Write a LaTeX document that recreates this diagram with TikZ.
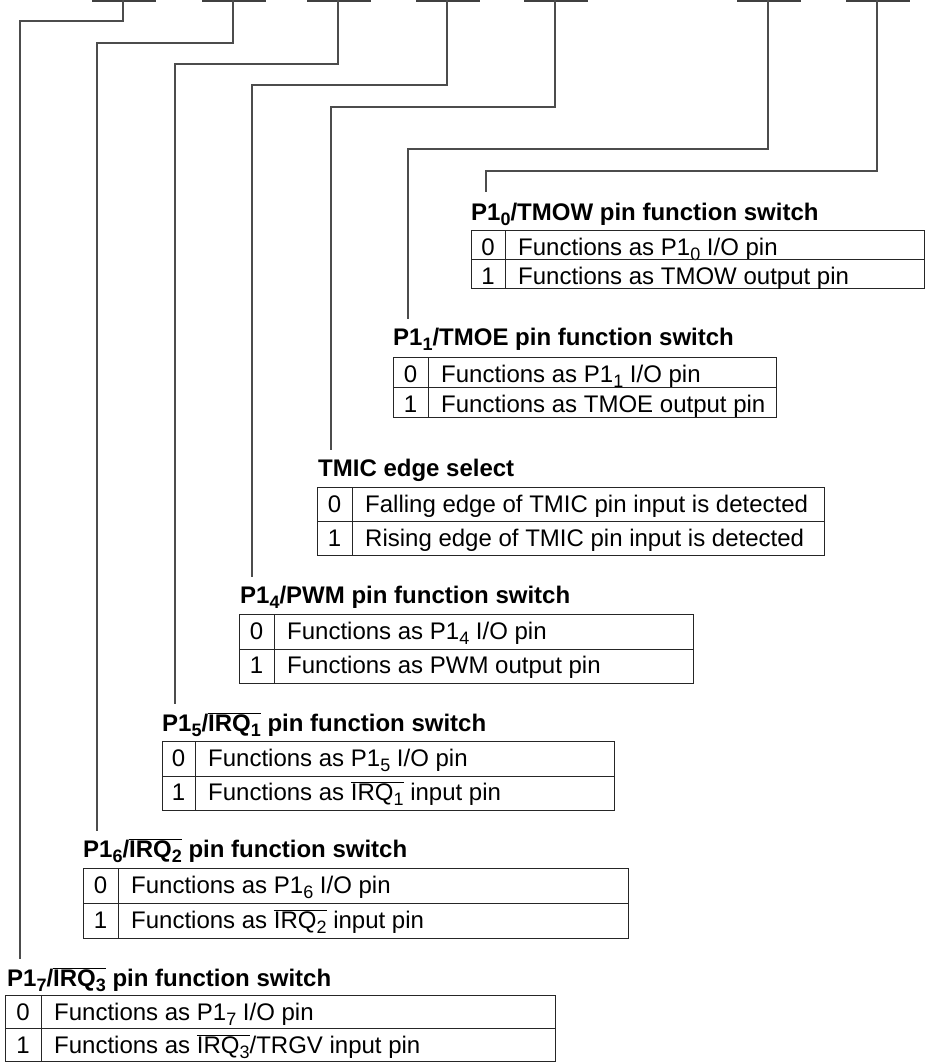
\documentclass[tikz,border=0pt]{standalone}
\usepackage{fontspec}
\setmainfont{Liberation Sans}
\newcommand\lo[1]{\raisebox{-5pt}{\fontsize{18}{18}\selectfont #1}}
\newcommand\irq[1]{$\overline{\hbox{IRQ\lo{#1}}}$}
% name, left, divider, right, top, height, number, text
\newcommand\trow[8]{%
  \node[cellbox, minimum width={(#3-#2)*1pt}, minimum height={#6*1pt}] (#1n) at (#2,#5) {};
  \node[cellbox, minimum width={(#4-#3)*1pt}, minimum height={#6*1pt}] (#1t) at (#3,#5) {};
  \node[celltext, anchor=base] (#1a) at ({(#2+#3)/2},{#5+25}) {#7};
  \node[celltext, anchor=base west] (#1b) at ({#3+13},{#5+25}) {#8};
}
\begin{document}
\begin{tikzpicture}[x=1pt,y=-1pt,
  conn/.style={draw=black!70, line width=1.3pt},
  bar/.style={draw=black!75, line width=1.6pt},
  ttl/.style={anchor=base west, inner sep=0pt, font=\fontsize{24}{28}\selectfont\bfseries},
  cellbox/.style={draw=black!85, line width=1.1pt, anchor=north west, inner sep=0pt},
  celltext/.style={inner sep=0pt, font=\fontsize{24}{28}\selectfont}]
\useasboundingbox (0,0) rectangle (926,1063);

% register bit positions (bottom edges of bit boxes)
\foreach \n/\x in {b7/123, b6/233, b5/338, b4/447, b3/555, b1/768, b0/877}{
  \coordinate (\n) at (\x,0);
  \draw[bar] (\x-31,0.8) -- (\x+33,0.8);
}

% connector ends
\coordinate (e7) at (20,959);
\coordinate (e6) at (97,831);
\coordinate (e5) at (175,704);
\coordinate (e4) at (252,577);
\coordinate (e3) at (331,450);
\coordinate (e1) at (408,319);
\coordinate (e0) at (486,192);

% jogs
\coordinate (j7) at (20,21);
\coordinate (j6) at (97,43);
\coordinate (j5) at (175,64);
\coordinate (j4) at (252,85);
\coordinate (j3) at (331,107);
\coordinate (j1) at (408,149);
\coordinate (j0) at (486,171);

\foreach \k in {7,6,5,4,3,1,0}{
  \draw[conn] (b\k) |- (j\k) -- (e\k);
}

% P1_0
\node[ttl] (t0) at (471,220) {P1\lo{0}/TMOW pin function switch};
\trow{r00}{471}{505}{924}{230}{29}{0}{Functions as P1\lo{0} I/O pin}
\trow{r01}{471}{505}{924}{259}{29}{1}{Functions as TMOW output pin}

% P1_1
\node[ttl] (t1) at (393,345) {P1\lo{1}/TMOE pin function switch};
\trow{r10}{393}{428}{776}{357}{30}{0}{Functions as P1\lo{1} I/O pin}
\trow{r11}{393}{428}{776}{387}{30}{1}{Functions as TMOE output pin}

% TMIC
\node[ttl] (t3) at (318,476) {TMIC edge select};
\trow{r30}{317}{352}{824}{487}{34}{0}{Falling edge of TMIC pin input is detected}
\trow{r31}{317}{352}{824}{521}{34}{1}{Rising edge of TMIC pin input is detected}

% P1_4
\node[ttl] (t4) at (240,603) {P1\lo{4}/PWM pin function switch};
\trow{r40}{239}{274}{693}{614}{34.5}{0}{Functions as P1\lo{4} I/O pin}
\trow{r41}{239}{274}{693}{648.5}{34.5}{1}{Functions as PWM output pin}

% P1_5
\node[ttl] (t5) at (162,731) {P1\lo{5}/\irq{1} pin function switch};
\trow{r50}{162}{195}{614}{741}{34.5}{0}{Functions as P1\lo{5} I/O pin}
\trow{r51}{162}{195}{614}{775.5}{34.5}{1}{Functions as \irq{1} input pin}

% P1_6
\node[ttl] (t6) at (83,857) {P1\lo{6}/\irq{2} pin function switch};
\trow{r60}{83}{118}{628}{868}{35}{0}{Functions as P1\lo{6} I/O pin}
\trow{r61}{83}{118}{628}{903}{35}{1}{Functions as \irq{2} input pin}

% P1_7
\node[ttl] (t7) at (7,986) {P1\lo{7}/\irq{3} pin function switch};
\trow{r70}{5}{41}{555}{995}{33}{0}{Functions as P1\lo{7} I/O pin}
\trow{r71}{5}{41}{555}{1028}{33}{1}{Functions as \irq{3}/TRGV input pin}
\end{tikzpicture}
\end{document}
